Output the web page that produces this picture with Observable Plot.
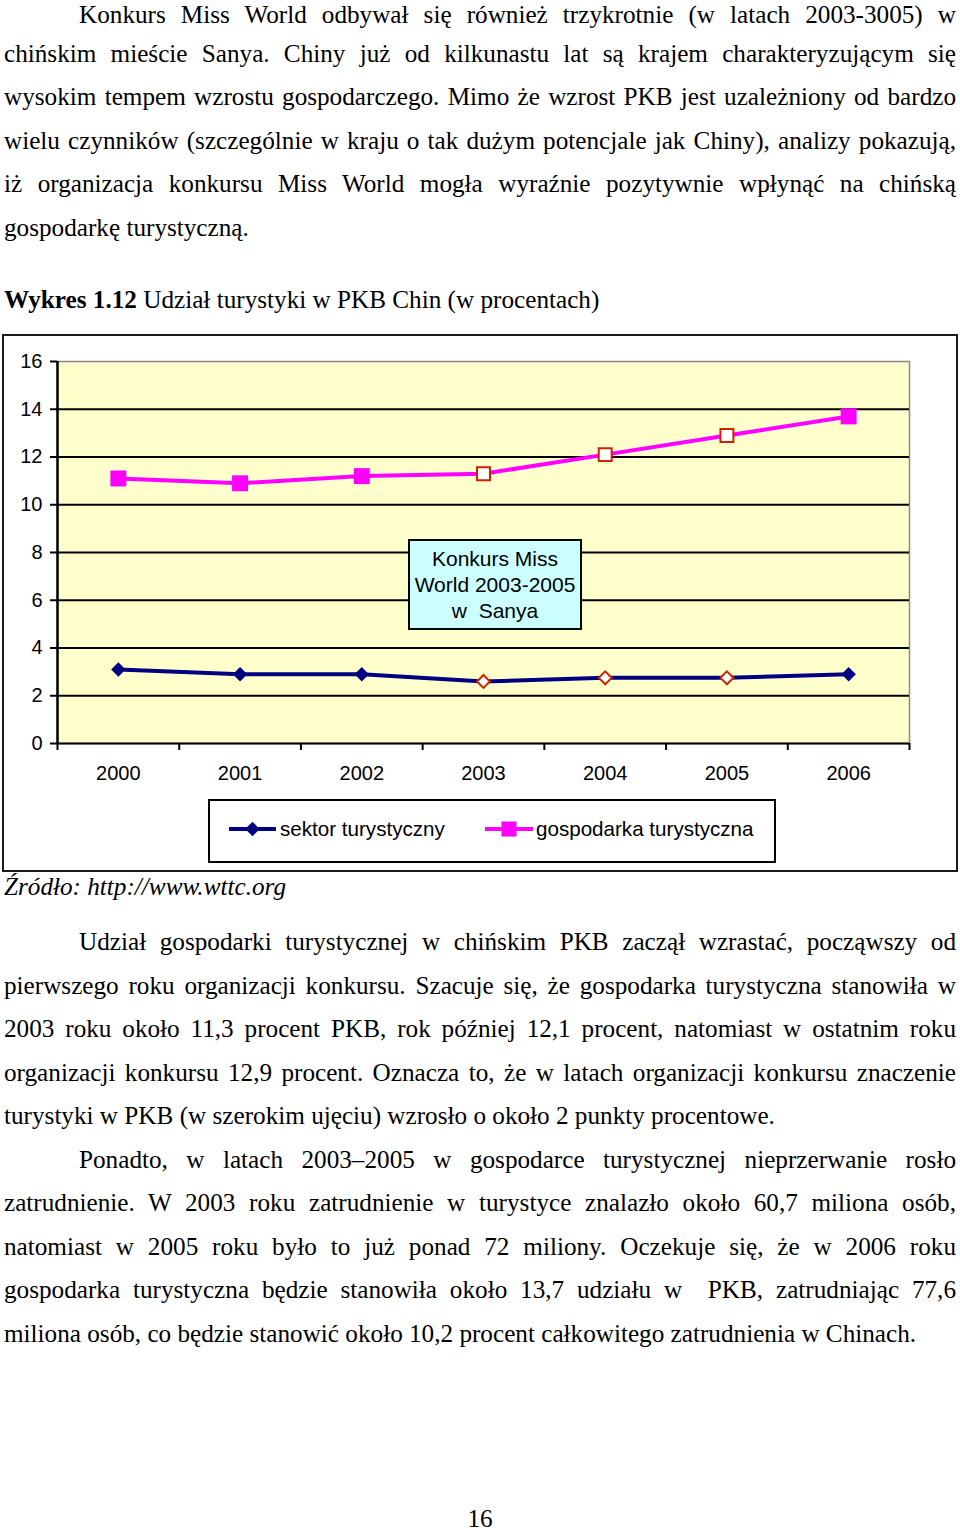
<!DOCTYPE html>
<html>
<head>
<meta charset="utf-8">
<script src="https://cdn.jsdelivr.net/npm/d3@7"></script>
<script src="https://cdn.jsdelivr.net/npm/@observablehq/plot@0.6"></script>
<style>
  html, body { margin: 0; padding: 0; background: #fff; }
  body { width: 960px; height: 1537px; position: relative; overflow: hidden; color: #000;
         font-family: "Liberation Serif", "Times New Roman", serif; }
  .ln { position: absolute; font-size: 25.2px; line-height: 43.5px; white-space: pre; }
  #frame { position: absolute; left: 2px; top: 334px; width: 956px; height: 538px;
           box-sizing: border-box; border: 2px solid #1a1a1a; background: #fff; }
  #chart { position: absolute; left: 0; top: 335px; }
  #note { position: absolute; left: 408px; top: 539px; width: 174px; height: 91px; box-sizing: border-box;
          border: 2px solid #000; background: #CCFFFF; text-align: center; white-space: pre;
          font-family: "Liberation Sans", Arial, sans-serif; font-size: 21px; line-height: 26px; padding-top: 5px; }
</style>
</head>
<body>
<div id="frame"></div>
<div id="chart"></div>
<div id="note">Konkurs Miss
World 2003-2005
w  Sanya</div>
<svg id="legend-svg" width="960" height="1537" style="position:absolute;left:0;top:0;pointer-events:none"></svg>
<script>
// ---------- data ----------
const years = [2000, 2001, 2002, 2003, 2004, 2005, 2006];
const sektorTurystyczny = [3.1, 2.9, 2.9, 2.6, 2.75, 2.75, 2.9];
const gospodarkaTurystyczna = [11.1, 10.9, 11.2, 11.3, 12.1, 12.9, 13.7];
const eventYears = [2003, 2004, 2005];
const yTicks = [0, 2, 4, 6, 8, 10, 12, 14, 16];
const gridTicks = [2, 4, 6, 8, 10, 12, 14];
const seriesNames = ["sektor turystyczny", "gospodarka turystyczna"];

const rows = years.map((year, i) => ({
  year, sektor: sektorTurystyczny[i], gosp: gospodarkaTurystyczna[i], event: eventYears.includes(year)
}));
const bounds = years.map(y => y - 0.5).concat([years[years.length - 1] + 0.5]);

// ---------- text page ----------
const LEFT = 4, RIGHT = 956;
function placeLine(text, baseline, opts = {}) {
  const { indent = 0, justify = true, italic = false, center = false, html = null } = opts;
  const el = document.createElement("div");
  el.className = "ln";
  if (html) el.innerHTML = html; else el.textContent = text;
  if (italic) el.style.fontStyle = "italic";
  document.body.appendChild(el);
  const probe = document.createElement("span");
  probe.style.display = "inline-block"; probe.style.width = "0"; probe.style.height = "0";
  probe.style.verticalAlign = "baseline";
  el.appendChild(probe);
  el.style.top = "0px";
  const baseOff = probe.getBoundingClientRect().top - el.getBoundingClientRect().top;
  el.removeChild(probe);
  el.style.top = (baseline - baseOff) + "px";
  const w = el.getBoundingClientRect().width;
  if (center) {
    el.style.left = (480 - w / 2) + "px";
  } else {
    el.style.left = (LEFT + indent) + "px";
  }
  if (justify) {
    const t = el.textContent;
    const n = (t.match(/ /g) || []).length;
    const target = RIGHT - LEFT - indent;
    if (n > 0) el.style.wordSpacing = ((target - w) / n) + "px";
  }
}

const IND = 75;
const para1 = [
  "Konkurs Miss World odbywał się również trzykrotnie (w latach 2003-3005) w",
  "chińskim mieście Sanya. Chiny już od kilkunastu lat są krajem charakteryzującym się",
  "wysokim tempem wzrostu gospodarczego. Mimo że wzrost PKB jest uzależniony od bardzo",
  "wielu czynników (szczególnie w kraju o tak dużym potencjale jak Chiny), analizy pokazują,",
  "iż organizacja konkursu Miss World mogła wyraźnie pozytywnie wpłynąć na chińską",
  "gospodarkę turystyczną."
];
para1.forEach((t, i) => placeLine(t, i === 0 ? 23 : 18 + i * 43.5, { indent: i === 0 ? IND : 0, justify: i < para1.length - 1 }));

placeLine("", 308, { justify: false, html: "<b>Wykres 1.12</b> Udział turystyki w PKB Chin (w procentach)" });
placeLine("Źródło: http://www.wttc.org", 895, { justify: false, italic: true });

const para2 = [
  "Udział gospodarki turystycznej w chińskim PKB zaczął wzrastać, począwszy od",
  "pierwszego roku organizacji konkursu. Szacuje się, że gospodarka turystyczna stanowiła w",
  "2003 roku około 11,3 procent PKB, rok później 12,1 procent, natomiast w ostatnim roku",
  "organizacji konkursu 12,9 procent. Oznacza to, że w latach organizacji konkursu znaczenie",
  "turystyki w PKB (w szerokim ujęciu) wzrosło o około 2 punkty procentowe."
];
const para3 = [
  "Ponadto, w latach 2003–2005 w gospodarce turystycznej nieprzerwanie rosło",
  "zatrudnienie. W 2003 roku zatrudnienie w turystyce znalazło około 60,7 miliona osób,",
  "natomiast w 2005 roku było to już ponad 72 miliony. Oczekuje się, że w 2006 roku",
  "gospodarka turystyczna będzie stanowiła około 13,7 udziału w  PKB, zatrudniając 77,6",
  "miliona osób, co będzie stanowić około 10,2 procent całkowitego zatrudnienia w Chinach."
];
para2.forEach((t, i) => placeLine(t, 950 + i * 43.5, { indent: i === 0 ? IND : 0, justify: i < para2.length - 1 }));
para3.forEach((t, i) => placeLine(t, 950 + (i + 5) * 43.5, { indent: i === 0 ? IND : 0, justify: i < para3.length - 1 }));
placeLine("16", 1527, { justify: false, center: true });

// ---------- chart ----------
const PINK = "#FF00FF", NAVY = "#000080", RED = "#CC2200";
const chart = Plot.plot({
  width: 960,
  height: 537,
  marginLeft: 57,
  marginRight: 51,
  marginTop: 26,
  marginBottom: 129,
  x: { domain: [bounds[0], bounds[bounds.length - 1]] },
  y: { domain: [0, 16] },
  style: { fontFamily: '"Liberation Sans", Arial, sans-serif', fontSize: "20px", background: "transparent", color: "#000", overflow: "visible" },
  marks: [
    Plot.frame({ fill: "#FFFFCC", stroke: "#8a8a8a", strokeWidth: 1.5 }),
    Plot.gridY(gridTicks, { stroke: "#000", strokeOpacity: 1, strokeWidth: 2 }),
    Plot.ruleY([0], { stroke: "#000", strokeWidth: 2 }),
    Plot.ruleX([bounds[0]], { stroke: "#000", strokeWidth: 2.5 }),
    Plot.axisY(yTicks, { tickSize: 7, tickPadding: 8, label: null, strokeWidth: 2, fontSize: 20 }),
    Plot.axisX(bounds, { tickSize: 7, tickFormat: () => "", label: null, strokeWidth: 2 }),
    Plot.axisX(years, { tickSize: 0, tickPadding: 22, tickFormat: d => String(d), label: null, fontSize: 20 }),
    Plot.line(rows, { x: "year", y: "gosp", stroke: PINK, strokeWidth: 4 }),
    Plot.line(rows, { x: "year", y: "sektor", stroke: NAVY, strokeWidth: 4 }),
    Plot.dot(rows.filter(d => !d.event), { x: "year", y: "gosp", symbol: "square", r: 9, fill: PINK, stroke: "none" }),
    Plot.dot(rows.filter(d => d.event), { x: "year", y: "gosp", symbol: "square", r: 7.3, fill: "#fff", stroke: RED, strokeWidth: 2 }),
    Plot.dot(rows.filter(d => !d.event), { x: "year", y: "sektor", symbol: "diamond2", r: 6.5, fill: NAVY, stroke: "none" }),
    Plot.dot(rows.filter(d => d.event), { x: "year", y: "sektor", symbol: "diamond2", r: 5.8, fill: "#fff", stroke: RED, strokeWidth: 2 })
  ]
});
document.getElementById("chart").appendChild(chart);

// ---------- legend ----------
const lg = d3.select("#legend-svg");
lg.append("rect").attr("x", 209).attr("y", 800).attr("width", 566).attr("height", 62)
  .attr("fill", "#fff").attr("stroke", "#000").attr("stroke-width", 2);
const legendItems = [
  { name: seriesNames[0], color: NAVY, sym: d3.symbolDiamond2, size: Math.PI * 6.5 * 6.5, x1: 229, x2: 276, tx: 280 },
  { name: seriesNames[1], color: PINK, sym: d3.symbolSquare, size: Math.PI * 8.5 * 8.5, x1: 485, x2: 533, tx: 536 }
];
legendItems.forEach(it => {
  lg.append("line").attr("x1", it.x1).attr("x2", it.x2).attr("y1", 829).attr("y2", 829)
    .attr("stroke", it.color).attr("stroke-width", 4);
  lg.append("path").attr("d", d3.symbol(it.sym, it.size)())
    .attr("transform", `translate(${(it.x1 + it.x2) / 2},829)`).attr("fill", it.color);
  lg.append("text").attr("x", it.tx).attr("y", 836).text(it.name)
    .attr("font-family", '"Liberation Sans", Arial, sans-serif').attr("font-size", 20.6).attr("fill", "#000");
});
document.body.appendChild(document.getElementById("note"));
</script>
</body>
</html>
